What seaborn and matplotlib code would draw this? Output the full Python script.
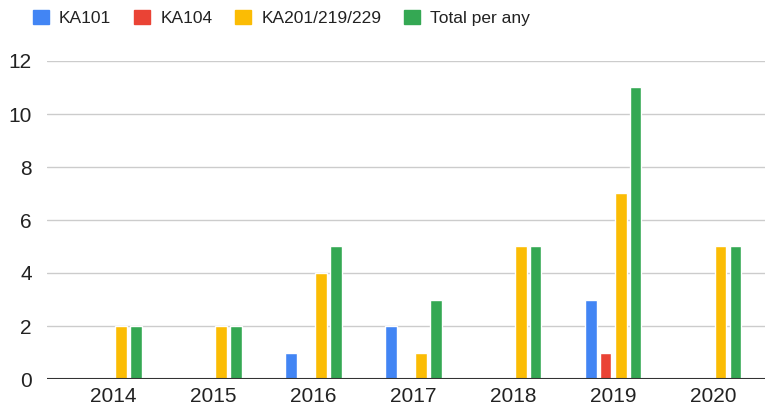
import pandas as pd
import matplotlib.pyplot as plt
import seaborn as sns
from matplotlib.patches import Patch

years = ["2014", "2015", "2016", "2017", "2018", "2019", "2020"]
ka101 = [0, 0, 1, 2, 0, 3, 0]
ka104 = [0, 0, 0, 0, 0, 1, 0]
ka201 = [2, 2, 4, 1, 5, 7, 5]
total = [2, 2, 5, 3, 5, 11, 5]
series = ["KA101", "KA104", "KA201/219/229", "Total per any"]
colors = ["#4285F4", "#EA4335", "#FBBC04", "#34A853"]

df = pd.DataFrame({"year": years, "KA101": ka101, "KA104": ka104,
                   "KA201/219/229": ka201, "Total per any": total})
long = df.melt(id_vars="year", var_name="series", value_name="count")

sns.set_style("white")
plt.rcParams['font.family'] = ['Liberation Sans', 'DejaVu Sans']

fig = plt.figure(figsize=(7.69, 4.15), dpi=100)
ax = fig.add_axes([47 / 769, 36 / 415, 718 / 769, 318 / 415])

sns.barplot(data=long, x="year", y="count", hue="series", hue_order=series,
            palette=colors, width=0.6, gap=0.2, saturation=1, legend=False,
            ax=ax)

ax.set_ylim(0, 12)
ax.set_xlim(-0.66, 6.52)
ax.set_yticks(range(0, 13, 2))
ax.yaxis.grid(True, color="#cccccc", linewidth=1)
ax.set_axisbelow(True)
ax.axhline(0, color="#333333", linewidth=1.5, zorder=3)
for s in ax.spines.values():
    s.set_visible(False)
ax.tick_params(axis="both", length=0, labelsize=15, colors="#222222")
ax.tick_params(axis="x", pad=6)
ax.tick_params(axis="y", pad=11)
ax.set_xlabel("")
ax.set_ylabel("")

handles = [Patch(facecolor=c, edgecolor=c, label=s) for s, c in zip(series, colors)]
fig.legend(handles=handles, loc="center left", bbox_to_anchor=(17 / 769, 1 - 18 / 415),
           ncol=4, frameon=False, fontsize=12.5, handlelength=0.92,
           handleheight=0.92, handletextpad=0.6, columnspacing=1.3,
           labelcolor="#222222")

plt.savefig("out.png", dpi=100)
